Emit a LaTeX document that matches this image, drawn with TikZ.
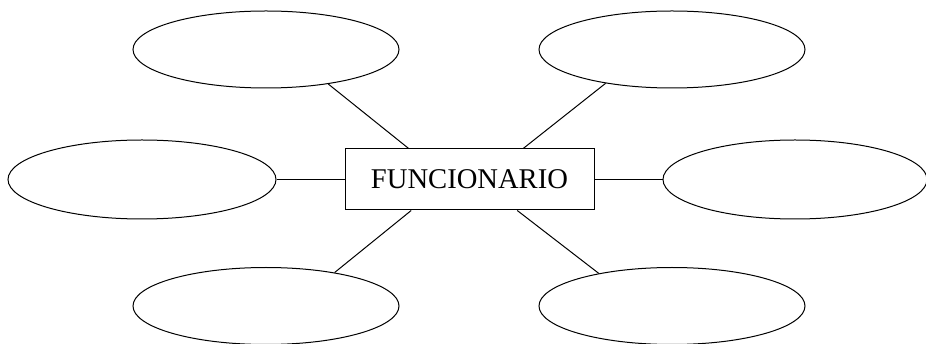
\documentclass[tikz,border=0pt]{standalone}
\usepackage{fontspec}
\setmainfont{Liberation Serif}
\usetikzlibrary{shapes.geometric}
\begin{document}
\begin{tikzpicture}[x=1pt,y=-1pt,line width=1pt,
  attr/.style={draw,ellipse,inner sep=0pt,minimum width=266pt,minimum height=77pt},
  entity/.style={draw,rectangle,inner sep=0pt,minimum width=249pt,minimum height=61pt,font=\fontsize{28.6}{32}\selectfont}]
\useasboundingbox (0,0) rectangle (926,344);
\node[entity] (f) at (469.5,179.5) {FUNCIONARIO};
\node[attr] (tl) at (266,49.5) {};
\node[attr] (tr) at (672,49.5) {};
\node[attr,minimum width=268pt,minimum height=79pt] (l) at (142,179.5) {};
\node[attr,minimum width=264pt,minimum height=79pt] (r) at (795,179.5) {};
\node[attr] (bl) at (266,306) {};
\node[attr] (br) at (672,306) {};
\draw (tl.-29) -- (f.153.6);
\draw (tr.-153.4) -- (f.30.2);
\draw (bl.26.2) -- (f.-152);
\draw (br.156.9) -- (f.-33.3);
\draw (l.east) -- (f.west);
\draw (r.west) -- (f.east);
\end{tikzpicture}
\end{document}
